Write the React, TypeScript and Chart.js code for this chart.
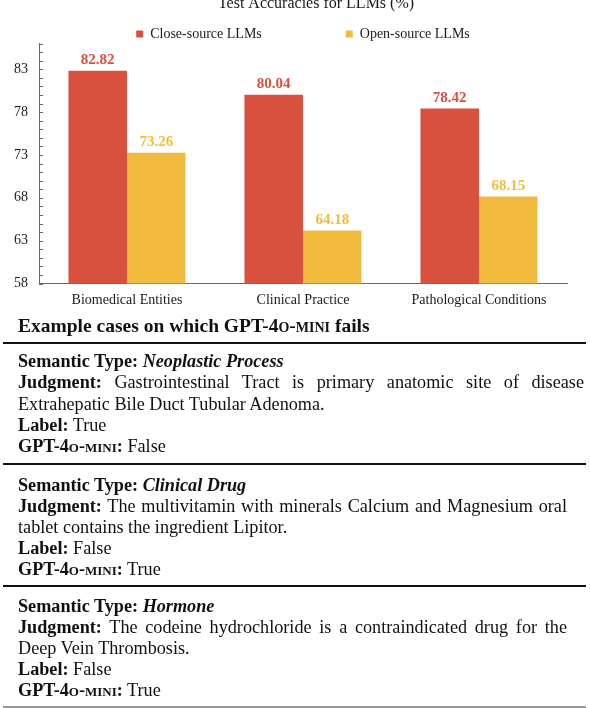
import React, { useEffect, useRef } from "react";
import { Chart, registerables } from "chart.js";

Chart.register(...registerables);

// ---- data ----
const categories = ["Biomedical Entities", "Clinical Practice", "Pathological Conditions"];
const seriesNames = ["Close-source LLMs", "Open-source LLMs"];
const closeSource = [82.82, 80.04, 78.42];
const openSource = [73.26, 64.18, 68.15];
const yTickLabels = [58, 63, 68, 73, 78, 83];
const yMin = 58;
const yMax = 86;
const chartTitle = "Test Accuracies for LLMs (%)";

const SERIF = "'Liberation Serif', 'Times New Roman', Times, serif";
const RED = "#d9503f";
const YELLOW = "#f1bc3d";
const AXIS = "#666666";
const INK = "#1a1a1a";

const insideTicks = {
  id: "insideTicks",
  afterDraw(chart: any) {
    const y = chart.scales.y;
    const ctx = chart.ctx;
    const left = chart.chartArea.left;
    ctx.save();
    ctx.strokeStyle = AXIS;
    ctx.lineWidth = 1;
    y.ticks.forEach((t: any) => {
      const py = Math.round(y.getPixelForValue(t.value)) + 0.5;
      ctx.beginPath();
      ctx.moveTo(left, py);
      ctx.lineTo(left + 4, py);
      ctx.stroke();
    });
    ctx.restore();
  },
};

const valueLabels = {
  id: "valueLabels",
  afterDatasetsDraw(chart: any) {
    const ctx = chart.ctx;
    chart.data.datasets.forEach((ds: any, i: number) => {
      const meta = chart.getDatasetMeta(i);
      meta.data.forEach((el: any, j: number) => {
        ctx.save();
        ctx.font = `bold 15px ${SERIF}`;
        ctx.fillStyle = ds.backgroundColor;
        ctx.textAlign = "center";
        ctx.textBaseline = "middle";
        ctx.fillText(Number(ds.data[j]).toFixed(2), el.x, el.y - 10.5);
        ctx.restore();
      });
    });
  },
};

// the reference title sits a little right of the plot centre
const titleShift = {
  id: "titleShift",
  afterLayout(chart: any) {
    const t = chart.titleBlock;
    if (t) {
      t.left += 13;
      t.right += 13;
    }
  },
};

function BarChart() {
  const ref = useRef<HTMLCanvasElement>(null);
  useEffect(() => {
    if (!ref.current) return;
    const chart = new Chart(ref.current, {
      type: "bar",
      data: {
        labels: categories,
        datasets: [
          { label: seriesNames[0], data: closeSource, backgroundColor: RED, borderWidth: 0, categoryPercentage: 0.665, barPercentage: 1 },
          { label: seriesNames[1], data: openSource, backgroundColor: YELLOW, borderWidth: 0, categoryPercentage: 0.665, barPercentage: 1 },
        ],
      },
      options: {
        animation: false,
        responsive: false,
        maintainAspectRatio: false,
        devicePixelRatio: 1,
        layout: { padding: { left: 3, right: 23, top: 0, bottom: 1.7 } },
        plugins: {
          tooltip: { enabled: false },
          title: {
            display: true,
            text: chartTitle,
            position: "top",
            fullSize: false,
            weight: 2000,
            color: INK,
            font: { family: SERIF, size: 16, weight: "normal" },
            padding: { top: 0.4, bottom: 0 },
          },
          legend: {
            display: true,
            position: "top",
            fullSize: false,
            weight: 1000,
            maxHeight: 30,
            title: { display: true, text: "", font: { family: SERIF, size: 16 }, padding: { top: 0, bottom: -89.8 } },
            labels: {
              boxWidth: 7,
              boxHeight: 7,
              padding: 84,
              color: INK,
              font: { family: SERIF, size: 14 },
            },
          },
        },
        scales: {
          x: {
            grid: { display: false, drawTicks: false },
            border: { display: true, color: AXIS, width: 1 },
            ticks: { color: INK, font: { family: SERIF, size: 14 }, padding: 8, maxRotation: 0 },
          },
          y: {
            min: yMin,
            max: yMax,
            grid: { display: false, drawTicks: false },
            border: { display: true, color: AXIS, width: 1 },
            ticks: {
              stepSize: 1,
              autoSkip: false,
              color: INK,
              padding: 11,
              font: { family: SERIF, size: 14 },
              callback: (v: any) => (yTickLabels.includes(Number(v)) ? String(v) : ""),
            },
          },
        },
      },
      plugins: [insideTicks, valueLabels, titleShift],
    } as any);
    return () => chart.destroy();
  }, []);
  return (
    <canvas
      ref={ref}
      width={590}
      height={324}
      style={{ position: "absolute", left: 0, top: -6, width: 590, height: 324, display: "block" }}
    />
  );
}

const Model = () => <span style={{ fontVariant: "small-caps" }}>GPT-4o-mini</span>;

type Line = { content: React.ReactNode; justifyWidth?: number };

function Block({ top, lines, lh = 21 }: { top: number; lines: Line[]; lh?: number }) {
  return (
    <div style={{ position: "absolute", left: 18, top, fontSize: 18.2, lineHeight: `${lh}px` }}>
      {lines.map((l, i) => (
        <div
          key={i}
          style={
            l.justifyWidth
              ? { width: l.justifyWidth, textAlign: "justify", textAlignLast: "justify" }
              : { whiteSpace: "nowrap" }
          }
        >
          {l.content}
        </div>
      ))}
    </div>
  );
}

export default function App() {
  return (
    <div
      style={{
        position: "absolute",
        left: 0,
        top: 0,
        width: 590,
        height: 708,
        overflow: "hidden",
        fontFamily: SERIF,
        color: "#111",
        background: "#fff",
      }}
    >
      <BarChart />
      <div style={{ position: "absolute", left: 18, top: 314, fontSize: 19.5, lineHeight: "24px", fontWeight: "bold", whiteSpace: "nowrap" }}>
        Example cases on which <Model /> fails
      </div>
      <div style={{ position: "absolute", left: 3, width: 583, top: 341.5, height: 2, background: "#111" }} />
      <Block
        top={351.2}
        lh={21.3}
        lines={[
          { content: <><b>Semantic Type:</b> <b><i>Neoplastic Process</i></b></> },
          { content: <><b>Judgment:</b> Gastrointestinal Tract is primary anatomic site of disease</>, justifyWidth: 566 },
          { content: <>Extrahepatic Bile Duct Tubular Adenoma.</> },
          { content: <><b>Label:</b> True</> },
          { content: <><b><Model />:</b> False</> },
        ]}
      />
      <div style={{ position: "absolute", left: 3, width: 583, top: 463.3, height: 2, background: "#111" }} />
      <Block
        top={474.5}
        lines={[
          { content: <><b>Semantic Type:</b> <b><i>Clinical Drug</i></b></> },
          { content: <><b>Judgment:</b> The multivitamin with minerals Calcium and Magnesium oral</>, justifyWidth: 549 },
          { content: <>tablet contains the ingredient Lipitor.</> },
          { content: <><b>Label:</b> False</> },
          { content: <><b><Model />:</b> True</> },
        ]}
      />
      <div style={{ position: "absolute", left: 3, width: 583, top: 584.7, height: 2, background: "#111" }} />
      <Block
        top={595.5}
        lines={[
          { content: <><b>Semantic Type:</b> <b><i>Hormone</i></b></> },
          { content: <><b>Judgment:</b> The codeine hydrochloride is a contraindicated drug for the</>, justifyWidth: 549 },
          { content: <>Deep Vein Thrombosis.</> },
          { content: <><b>Label:</b> False</> },
          { content: <><b><Model />:</b> True</> },
        ]}
      />
      <div style={{ position: "absolute", left: 3, width: 583, top: 706, height: 1.5, background: "#9a9a9a" }} />
    </div>
  );
}
